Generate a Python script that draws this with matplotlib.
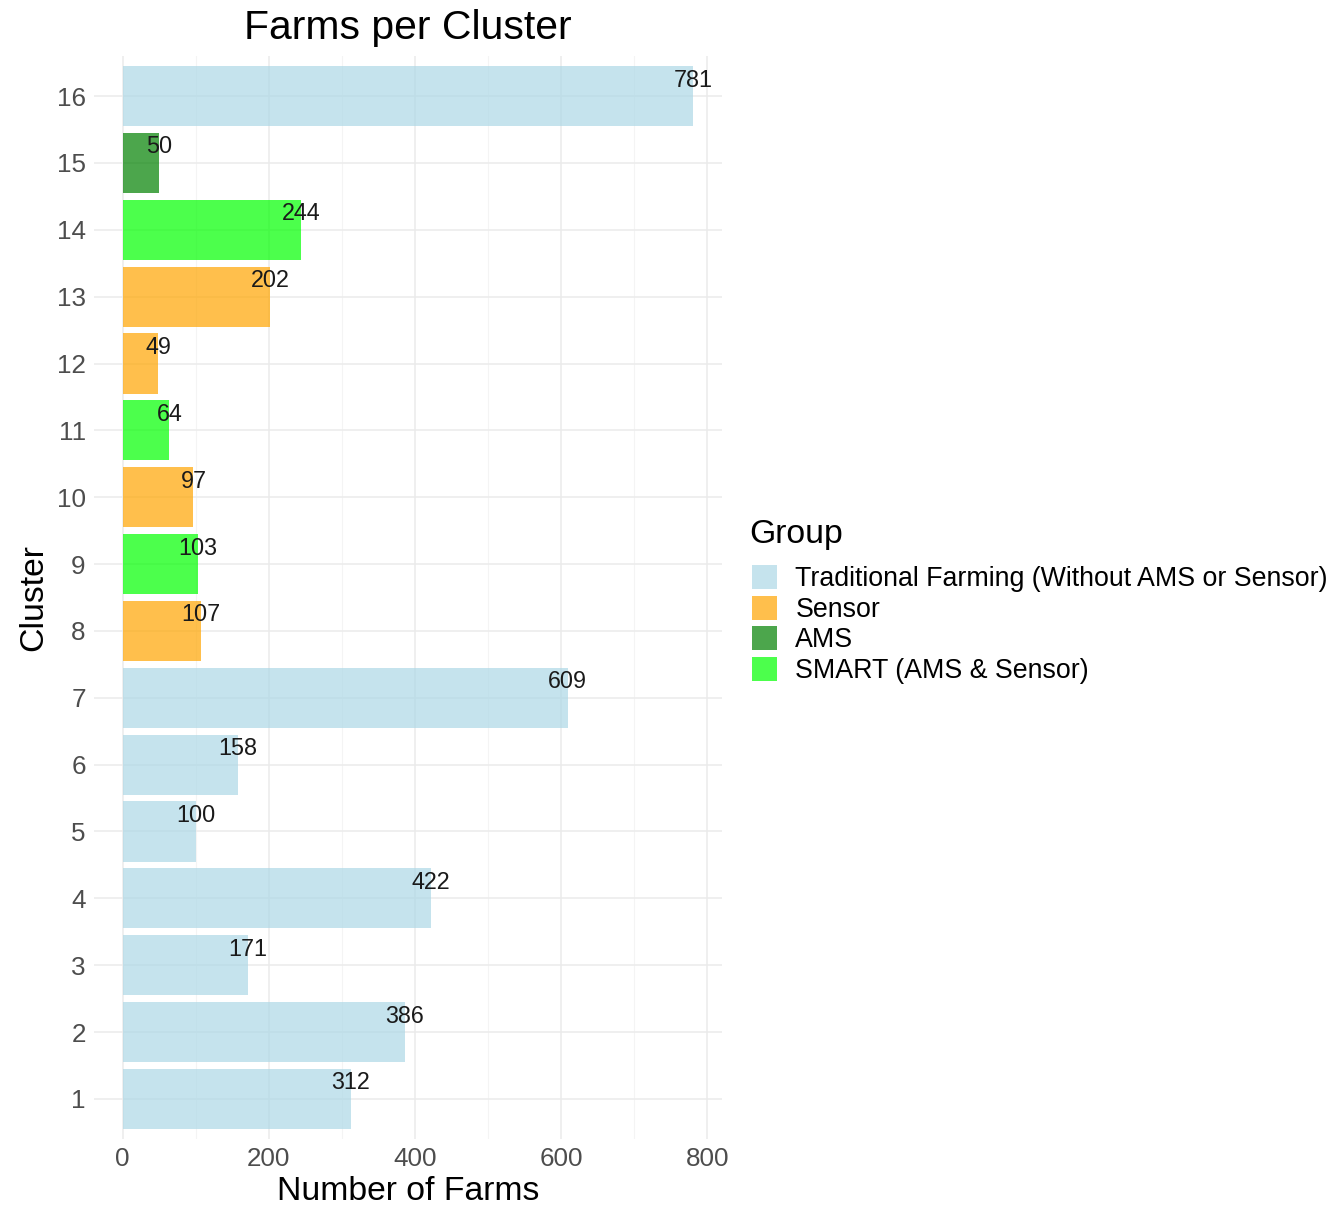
import numpy as np
import matplotlib
matplotlib.use("Agg")
import matplotlib.pyplot as plt
from matplotlib.patches import Patch

plt.rcParams.update({
    "font.family": ["Liberation Sans", "DejaVu Sans"],
})

clusters = list(range(1, 17))
farms = [312, 386, 171, 422, 100, 158, 609, 107, 103, 97, 64, 49, 202, 244, 50, 781]
groups = ["Trad", "Trad", "Trad", "Trad", "Trad", "Trad", "Trad",
          "Sensor", "SMART", "Sensor", "SMART", "Sensor", "Sensor", "SMART", "AMS", "Trad"]

group_names = {
    "Trad": "Traditional Farming (Without AMS or Sensor)",
    "Sensor": "Sensor",
    "AMS": "AMS",
    "SMART": "SMART (AMS & Sensor)",
}
group_order = ["Trad", "Sensor", "AMS", "SMART"]
colors = {"Trad": "#ADD8E6", "Sensor": "#FFA500", "AMS": "#008000", "SMART": "#00FF00"}
ALPHA = 0.7

fig = plt.figure(figsize=(13.37, 12.06), dpi=100)
ax = fig.add_axes([94 / 1337, 1 - 1139 / 1206, (722 - 94) / 1337, (1139 - 56) / 1206])

ax.barh(clusters, farms, height=0.9, color=[colors[g] for g in groups],
        alpha=ALPHA, zorder=2, linewidth=0)
for c, v in zip(clusters, farms):
    ax.annotate(str(v), (v, c), xytext=(0, 11.5), textcoords="offset points",
                ha="center", va="center", fontsize=16.8, color="#1a1a1a", zorder=3)

xmax = max(farms)
ax.set_xlim(-0.05 * xmax, xmax * 1.05)
ax.set_ylim(0.4, 16.6)
ax.set_xticks([0, 200, 400, 600, 800])
ax.set_xticks([100, 300, 500, 700], minor=True)
ax.set_yticks(clusters)
ax.grid(True, which="major", color="#ebebeb", lw=1.1, zorder=0)
ax.grid(True, which="minor", axis="x", color="#f4f4f4", lw=0.8, zorder=0)
ax.tick_params(axis="both", which="both", length=0, labelsize=18.7,
               labelcolor="#4d4d4d")
ax.tick_params(axis="y", pad=6)
ax.tick_params(axis="x", pad=6)
for s in ax.spines.values():
    s.set_visible(False)

ax.set_xlabel("Number of Farms", fontsize=24.3, labelpad=3)
ax.set_ylabel("Cluster", fontsize=24.3, labelpad=5)
ax.set_title("Farms per Cluster", fontsize=29.4, pad=12)

# legend: title drawn separately so the gap above the keys matches
fig.text(749 / 1337, 1 - 534 / 1206, "Group", fontsize=24.3, ha="left", va="center")
handles = [Patch(facecolor=colors[g], alpha=ALPHA, edgecolor="none") for g in group_order]
leg = fig.legend(handles, [group_names[g] for g in group_order],
                 loc="upper left", bbox_to_anchor=(752 / 1337, 1 - 565 / 1206),
                 frameon=False, fontsize=19.3,
                 handlelength=0.92, handleheight=1.0, handletextpad=0.7,
                 labelspacing=0.13, borderpad=0, borderaxespad=0)

fig.savefig("out.png", dpi=100)
